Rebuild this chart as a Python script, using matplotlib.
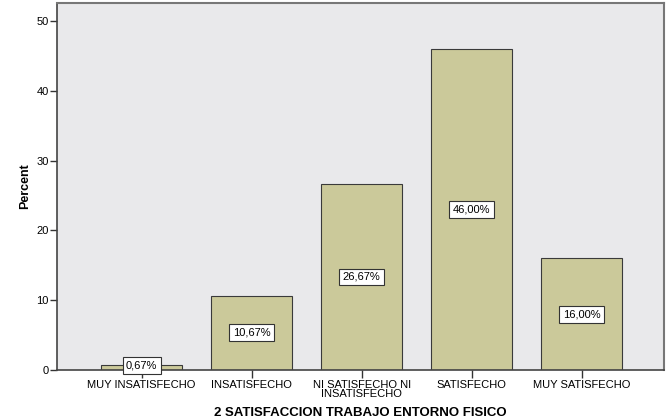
import matplotlib.pyplot as plt

categorias = ['MUY INSATISFECHO', 'INSATISFECHO', 'NI SATISFECHO NI\nINSATISFECHO',
              'SATISFECHO', 'MUY SATISFECHO']
porcentajes = [0.67, 10.67, 26.67, 46.00, 16.00]
etiquetas = ['0,67%', '10,67%', '26,67%', '46,00%', '16,00%']

plt.rcParams['font.family'] = ['Liberation Sans', 'DejaVu Sans']

fig = plt.figure(figsize=(6.72, 4.2), dpi=100)
ax = fig.add_axes([57 / 672, 50 / 420, 607 / 672, 367 / 420])
ax.set_facecolor('#e9e9eb')

x = range(len(categorias))
barras = ax.bar(x, porcentajes, width=0.74, color='#cbc99a',
                edgecolor='#3a3a3a', linewidth=0.8, zorder=2)

for b, v, t in zip(barras, porcentajes, etiquetas):
    y = v / 2 if v > 3 else v
    ax.text(b.get_x() + b.get_width() / 2, y, t, ha='center', va='center',
            fontsize=8, zorder=3,
            bbox=dict(boxstyle='square,pad=0.3', fc='white', ec='#333333', lw=0.8))

ax.set_xlim(-0.77, 4.75)
ax.set_ylim(0, 52.6)
ax.set_yticks([0, 10, 20, 30, 40, 50])
ax.set_xticks(list(x))
ax.set_xticklabels(categorias, fontsize=8, linespacing=0.85)
ax.tick_params(axis='y', labelsize=8, length=5, width=1, color='#333333', pad=1)
ax.tick_params(axis='x', length=6, width=1, color='#333333', pad=1)

for s in ['left', 'bottom']:
    ax.spines[s].set_color('#444444')
    ax.spines[s].set_linewidth(1.2)
for s in ['top', 'right']:
    ax.spines[s].set_color('#777777')
    ax.spines[s].set_linewidth(1.5)

ax.set_ylabel('Percent', fontsize=9, fontweight='bold', labelpad=4)
ax.set_xlabel('2 SATISFACCION TRABAJO ENTORNO FISICO', fontsize=9.5,
              fontweight='bold', labelpad=6)

fig.savefig('out.png', dpi=100)
